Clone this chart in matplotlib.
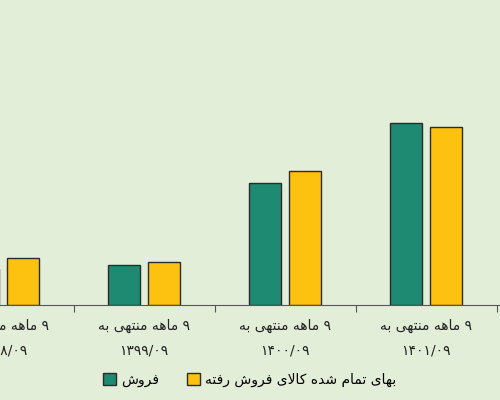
import matplotlib
matplotlib.use("Agg")
import matplotlib.pyplot as plt
from matplotlib.patches import Patch

periods = ["۱۳۹۸/۰۹", "۱۳۹۹/۰۹", "۱۴۰۰/۰۹", "۱۴۰۱/۰۹"]
sales = [36, 40, 122, 182]
cogs = [47, 43, 134, 178]
prefix = "۹ ماهه منتهی به"
leg_sales = "فروش"
leg_cogs = "بهای تمام شده کالای فروش رفته"

FORMS = {
 'ا': (0xFE8D, 0xFE8E, None, None), 'د': (0xFEA9, 0xFEAA, None, None),
 'ر': (0xFEAD, 0xFEAE, None, None), 'و': (0xFEED, 0xFEEE, None, None),
 'ب': (0xFE8F, 0xFE90, 0xFE91, 0xFE92), 'ت': (0xFE95, 0xFE96, 0xFE97, 0xFE98),
 'ش': (0xFEB5, 0xFEB6, 0xFEB7, 0xFEB8), 'ف': (0xFED1, 0xFED2, 0xFED3, 0xFED4),
 'ک': (0xFB8E, 0xFB8F, 0xFB90, 0xFB91), 'ل': (0xFEDD, 0xFEDE, 0xFEDF, 0xFEE0),
 'م': (0xFEE1, 0xFEE2, 0xFEE3, 0xFEE4), 'ن': (0xFEE5, 0xFEE6, 0xFEE7, 0xFEE8),
 'ه': (0xFEE9, 0xFEEA, 0xFEEB, 0xFEEC), 'ی': (0xFBFC, 0xFBFD, 0xFBFE, 0xFBFF),
}

def dual(c):
    return c in FORMS and FORMS[c][2] is not None

def shape(s):
    s = s.replace('لا', '\uE000')
    out = []
    n = len(s)
    for i, c in enumerate(s):
        prev = s[i-1] if i > 0 else ''
        nxt = s[i+1] if i < n-1 else ''
        jp = dual(prev)
        if c == '\uE000':
            out.append(chr(0xFEFC if jp else 0xFEFB)); continue
        if c not in FORMS:
            out.append(c); continue
        jn = dual(c) and (nxt in FORMS or nxt == '\uE000')
        iso, fin, ini, med = FORMS[c]
        if jp and jn: out.append(chr(med))
        elif jp: out.append(chr(fin))
        elif jn: out.append(chr(ini))
        else: out.append(chr(iso))
    return ''.join(out)[::-1]

bg = '#e3eed9'
fig = plt.figure(figsize=(5, 4), dpi=100, facecolor=bg)
ax = fig.add_axes([0, 1 - 305/400, 1, 305/400])
ax.set_facecolor(bg)
x = list(range(len(periods)))
w = 32/141
off = 20/141
ax.bar([i - off for i in x], sales, w, color='#1e8a72', edgecolor='#2b2b2b', linewidth=1)
ax.bar([i + off for i in x], cogs, w, color='#fdc20f', edgecolor='#2b2b2b', linewidth=1)
for s in ['top', 'left', 'right']:
    ax.spines[s].set_visible(False)
ax.spines['bottom'].set_color('#555555')
ax.set_yticks([])
ax.set_xticks([i + 0.5 for i in range(-1, 4)])
ax.set_xticklabels([])
ax.tick_params(axis='x', direction='out', length=5, color='#555555')
ax.set_xlim(-3/141, 497/141)
ax.set_ylim(0, 305)
for i, p in enumerate(periods):
    ax.text(i, -21, shape(prefix), ha='center', va='center', fontsize=10, color='#222222', family='DejaVu Sans', clip_on=False)
    ax.text(i, -46, p, ha='center', va='center', fontsize=10, color='#222222', family='DejaVu Sans', clip_on=False)

handles = [Patch(facecolor='#1e8a72', edgecolor='#2b2b2b'), Patch(facecolor='#fdc20f', edgecolor='#2b2b2b')]
fig.legend(handles, [shape(leg_sales), shape(leg_cogs)], loc='center', bbox_to_anchor=(0.5, 1 - 380/400),
           ncol=2, frameon=False, fontsize=10, handlelength=0.9, handleheight=0.9, handletextpad=0.4, columnspacing=2)
fig.savefig('out.png', dpi=100, facecolor=bg)
